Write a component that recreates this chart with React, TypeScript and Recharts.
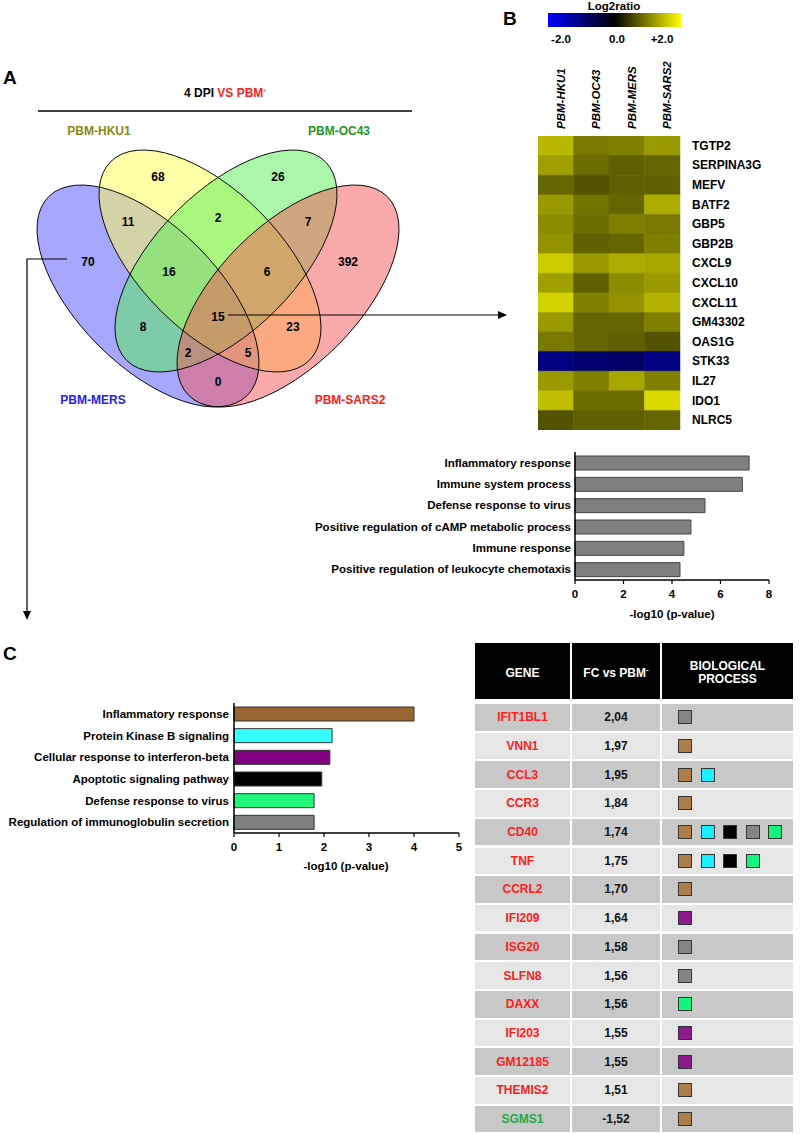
import React from 'react';
import { BarChart, Bar, XAxis, YAxis, Cell } from 'recharts';

const FONT = '"Liberation Sans", Arial, Helvetica, sans-serif';

// ---------- Panel A: Venn ----------
const vennSetNames = ['PBM-MERS', 'PBM-HKU1', 'PBM-OC43', 'PBM-SARS2'];
const vennRegionKeys = ['M', 'H', 'O', 'S', 'MH', 'HO', 'OS', 'MHO', 'HOS', 'MHOS', 'MO', 'HS', 'MOS', 'MHS', 'MS'];
const vennCounts = [70, 68, 26, 392, 11, 2, 7, 16, 6, 15, 8, 23, 2, 5, 0];

// ---------- Panel B: heatmap ----------
const heatGenes = ['TGTP2', 'SERPINA3G', 'MEFV', 'BATF2', 'GBP5', 'GBP2B', 'CXCL9', 'CXCL10', 'CXCL11', 'GM43302', 'OAS1G', 'STK33', 'IL27', 'IDO1', 'NLRC5'];
const heatColumns = ['PBM-HKU1', 'PBM-OC43', 'PBM-MERS', 'PBM-SARS2'];
const heatHKU1 = [1.45, 1.25, 0.8, 1.2, 1.1, 1.15, 1.6, 1.25, 1.65, 1.2, 0.95, -1.0, 1.2, 1.5, 0.65];
const heatOC43 = [0.95, 0.85, 0.65, 0.9, 0.85, 0.75, 1.2, 0.75, 1.0, 0.8, 0.8, -0.85, 1.0, 0.85, 0.75];
const heatMERS = [1.0, 0.75, 0.75, 0.8, 1.0, 0.8, 1.35, 1.1, 1.15, 0.8, 0.75, -0.8, 1.3, 0.85, 0.75];
const heatSARS2 = [1.2, 0.8, 0.75, 1.35, 0.95, 1.0, 1.3, 1.2, 1.4, 1.0, 0.65, -1.0, 1.0, 1.7, 0.8];
const heatValues = [heatHKU1, heatOC43, heatMERS, heatSARS2];
const colorbarTicks = ['-2.0', '0.0', '+2.0'];

// ---------- Panel B: GO bar chart ----------
const goTermsB = ['Inflammatory response', 'Immune system process', 'Defense response to virus', 'Positive regulation of cAMP metabolic process', 'Immune response', 'Positive regulation of leukocyte chemotaxis'];
const goValuesB = [7.18, 6.9, 5.36, 4.78, 4.49, 4.33];
const ticksB = [0, 2, 4, 6, 8];

// ---------- Panel C: GO bar chart ----------
const goTermsC = ['Inflammatory response', 'Protein Kinase B signaling', 'Cellular response to interferon-beta', 'Apoptotic signaling pathway', 'Defense response to virus', 'Regulation of immunoglobulin secretion'];
const goValuesC = [4.0, 2.18, 2.13, 1.95, 1.78, 1.78];
const ticksC = [0, 1, 2, 3, 4, 5];

// ---------- Panel C: table ----------
const tableGenes = ['IFIT1BL1', 'VNN1', 'CCL3', 'CCR3', 'CD40', 'TNF', 'CCRL2', 'IFI209', 'ISG20', 'SLFN8', 'DAXX', 'IFI203', 'GM12185', 'THEMIS2', 'SGMS1'];
const tableFC = ['2,04', '1,97', '1,95', '1,84', '1,74', '1,75', '1,70', '1,64', '1,58', '1,56', '1,56', '1,55', '1,55', '1,51', '-1,52'];
const tableProcesses = [[5], [0], [0, 1], [0], [0, 1, 3, 5, 4], [0, 1, 3, 4], [0], [2], [5], [5], [4], [2], [2], [0], [0]];

// ---------- styles / layout (not data) ----------
const goColorsC = ['#996633', '#33ffff', '#800080', '#000000', '#1ef77a', '#808080'];
const squareColors = ['#ad7d4b', '#19f0ff', '#8c1c8c', '#000000', '#12f57e', '#858585'];
const vennLabelPos: Record<string, [number, number]> = {
  M: [88, 262], H: [158, 177], O: [278, 177], S: [348, 262],
  MH: [128, 222], HO: [218, 218], OS: [308, 222],
  MHO: [169, 272], HOS: [267, 272], MHOS: [218, 317],
  MO: [143, 327], HS: [293, 327], MOS: [188, 353], MHS: [248, 353], MS: [218, 382],
};
const vennEllipses = [
  { cx: 148, cy: 296, rot: 45, fill: '#5050ff' },
  { cx: 210, cy: 261, rot: 45, fill: '#ffff50' },
  { cx: 226, cy: 261, rot: -45, fill: '#55f055' },
  { cx: 288, cy: 296, rot: -45, fill: '#f55555' },
];
const vennSetLabelStyle = [
  { x: 93, y: 400, color: '#2222ff' },
  { x: 99, y: 131, color: '#8a8a1a' },
  { x: 339, y: 131, color: '#229922' },
  { x: 350, y: 400, color: '#ff2020' },
];

function heatColor(v: number): string {
  const t = Math.max(-1, Math.min(1, v / 2));
  if (t >= 0) {
    const c = Math.round(255 * t);
    return `rgb(${c},${c},0)`;
  }
  return `rgb(0,0,${Math.round(-255 * t)})`;
}

const boldTick = (size: number) => ({ fill: '#000', fontSize: size, fontWeight: 700, fontFamily: FONT });

const makeCategoryTick = (size: number, anchor: 'start' | 'end') => (props: any) => {
  const { x, y, payload } = props;
  return (
    <text x={x} y={y} textAnchor={anchor} dominantBaseline="central" fill="#000" fontSize={size} fontWeight={700} fontFamily={FONT}>
      {payload.value}
    </text>
  );
};

function Overlay() {
  const arrowHead = (x: number, y: number, dir: 'right' | 'down') =>
    dir === 'right'
      ? `${x},${y} ${x - 9},${y - 4} ${x - 9},${y + 4}`
      : `${x},${y} ${x - 4},${y - 9} ${x + 4},${y - 9}`;
  return (
    <svg width={800} height={1134} style={{ position: 'absolute', left: 0, top: 0 }} fontFamily={FONT}>
      {/* panel letters */}
      <text x={3} y={84} fontSize={19} fontWeight={700}>A</text>
      <text x={503} y={25} fontSize={19} fontWeight={700}>B</text>
      <text x={3} y={660} fontSize={19} fontWeight={700}>C</text>

      {/* Venn title */}
      <text x={225} y={97} fontSize={12} fontWeight={700} textAnchor="middle">
        <tspan fill="#000">4 DPI </tspan>
        <tspan fill="#ff2020">VS PBM</tspan>
        <tspan fill="#ff2020" fontSize={8} dy={-5}>-</tspan>
      </text>
      <line x1={38} y1={111} x2={412} y2={111} stroke="#000" strokeWidth={1.3} />

      {/* Venn ellipses */}
      {vennEllipses.map((e, i) => (
        <ellipse key={i} cx={e.cx} cy={e.cy} rx={140.5} ry={70} transform={`rotate(${e.rot} ${e.cx} ${e.cy})`} fill={e.fill} fillOpacity={0.5} stroke="none" />
      ))}
      {vennEllipses.map((e, i) => (
        <ellipse key={'o' + i} cx={e.cx} cy={e.cy} rx={140.5} ry={70} transform={`rotate(${e.rot} ${e.cx} ${e.cy})`} fill="none" stroke="#000" strokeWidth={0.9} />
      ))}
      {vennSetNames.map((n, i) => (
        <text key={n} x={vennSetLabelStyle[i].x} y={vennSetLabelStyle[i].y} fill={vennSetLabelStyle[i].color} fontSize={12} fontWeight={700} textAnchor="middle" dominantBaseline="central">{n}</text>
      ))}
      {vennRegionKeys.map((k, i) => (
        <text key={k} x={vennLabelPos[k][0]} y={vennLabelPos[k][1]} fontSize={12} fontWeight={700} textAnchor="middle" dominantBaseline="central" fill="#000">{vennCounts[i]}</text>
      ))}

      {/* arrows */}
      <polyline points="67,259 27,259 27,611" fill="none" stroke="#000" strokeWidth={1.2} />
      <polygon points={arrowHead(27, 620, 'down')} fill="#000" />
      <line x1={228} y1={315} x2={498} y2={315} stroke="#000" strokeWidth={1.2} />
      <polygon points={arrowHead(507, 315, 'right')} fill="#000" />

      {/* colour bar */}
      <defs>
        <linearGradient id="cbar" x1="0" x2="1" y1="0" y2="0">
          <stop offset="0" stopColor="#0000ff" />
          <stop offset="0.5" stopColor="#000000" />
          <stop offset="1" stopColor="#ffff00" />
        </linearGradient>
      </defs>
      <text x={614} y={6} fontSize={11.5} fontWeight={700} textAnchor="middle" dominantBaseline="central">Log2ratio</text>
      <rect x={548} y={13} width={133} height={14} fill="url(#cbar)" />
      {colorbarTicks.map((t, i) => (
        <text key={t} x={[561, 617, 662][i]} y={39} fontSize={11.5} fontWeight={700} textAnchor="middle" dominantBaseline="central">{t}</text>
      ))}

      {/* heatmap column labels */}
      {heatColumns.map((c, i) => (
        <text key={c} x={538 + 35.5 * (i + 0.5) + 9} y={129} fontSize={11.5} fontWeight={700} fontStyle="italic" transform={`rotate(-90 ${538 + 35.5 * (i + 0.5) + 9} 129)`}>{c}</text>
      ))}

      {/* axis titles */}
      <text x={672} y={614} fontSize={11.5} fontWeight={700} textAnchor="middle" dominantBaseline="central">-log10 (p-value)</text>
      <text x={346} y={866} fontSize={11.5} fontWeight={700} textAnchor="middle" dominantBaseline="central">-log10 (p-value)</text>
    </svg>
  );
}

function Heatmap() {
  const rows = heatGenes.map((g) => ({ gene: g, c0: 1, c1: 1, c2: 1, c3: 1 }));
  return (
    <div style={{ position: 'absolute', left: 538, top: 136 }}>
      <BarChart width={242} height={294} data={rows} layout="vertical" margin={{ top: 0, right: 0, bottom: 0, left: 0 }} barCategoryGap={0} barGap={0}>
        <XAxis type="number" domain={[0, 4]} hide />
        <YAxis type="category" dataKey="gene" orientation="right" width={100} axisLine={false} tickLine={false} tickSize={0} tickMargin={12} interval={0} tick={makeCategoryTick(12, 'start')} />
        {heatColumns.map((c, ci) => (
          <Bar key={c} dataKey={`c${ci}`} stackId="h" isAnimationActive={false}>
            {rows.map((r, ri) => (
              <Cell key={r.gene} fill={heatColor(heatValues[ci][ri])} stroke={heatColor(heatValues[ci][ri])} strokeWidth={0.5} />
            ))}
          </Bar>
        ))}
      </BarChart>
    </div>
  );
}

function ChartB() {
  const rows = goTermsB.map((t, i) => ({ term: t, value: goValuesB[i] }));
  return (
    <div style={{ position: 'absolute', left: 250, top: 440 }}>
      <BarChart width={540} height={170} data={rows} layout="vertical" margin={{ top: 12, right: 21, bottom: 0, left: 0 }}>
        <XAxis type="number" domain={[0, 8]} ticks={ticksB} interval={0} height={30} axisLine={{ stroke: '#000', strokeWidth: 1.5 }} tickLine={{ stroke: '#000', strokeWidth: 1.2 }} tickSize={4} tickMargin={6} tick={boldTick(11.5)} />
        <YAxis type="category" dataKey="term" width={325} axisLine={{ stroke: '#000', strokeWidth: 1.5 }} tickLine={false} tickSize={0} tickMargin={4} interval={0} tick={makeCategoryTick(11.5, 'end')} />
        <Bar dataKey="value" fill="#808080" stroke="#444" strokeWidth={1} barSize={14} isAnimationActive={false} />
      </BarChart>
    </div>
  );
}

function ChartC() {
  const rows = goTermsC.map((t, i) => ({ term: t, value: goValuesC[i] }));
  return (
    <div style={{ position: 'absolute', left: 0, top: 690 }}>
      <BarChart width={480} height={175} data={rows} layout="vertical" margin={{ top: 13, right: 21, bottom: 0, left: 0 }}>
        <XAxis type="number" domain={[0, 5]} ticks={ticksC} interval={0} height={32} axisLine={{ stroke: '#000', strokeWidth: 1.5 }} tickLine={{ stroke: '#000', strokeWidth: 1.2 }} tickSize={4} tickMargin={6} tick={boldTick(11.5)} />
        <YAxis type="category" dataKey="term" width={234} axisLine={{ stroke: '#000', strokeWidth: 1.5 }} tickLine={false} tickSize={0} tickMargin={5} interval={0} tick={makeCategoryTick(11.5, 'end')} />
        <Bar dataKey="value" stroke="#333" strokeWidth={1} barSize={14} isAnimationActive={false}>
          {rows.map((r, i) => (
            <Cell key={r.term} fill={goColorsC[i]} />
          ))}
        </Bar>
      </BarChart>
    </div>
  );
}

function GeneTable() {
  const cols = [
    { x: 475, w: 95 },
    { x: 572, w: 88 },
    { x: 662, w: 131 },
  ];
  const headerTop = 643;
  const headerH = 56;
  const rowTop = 704;
  const pitch = 28.7;
  const cellH = 26.6;
  const cellBase: React.CSSProperties = {
    position: 'absolute',
    display: 'flex',
    alignItems: 'center',
    justifyContent: 'center',
    fontFamily: FONT,
    fontWeight: 700,
    fontSize: 12,
    boxSizing: 'border-box',
  };
  const headers = [
    <span key="g">GENE</span>,
    <span key="f">FC vs PBM<sup style={{ fontSize: 8, verticalAlign: 'top', position: 'relative', top: -1 }}>-</sup></span>,
    <span key="b" style={{ textAlign: 'center', lineHeight: '13px' }}>BIOLOGICAL<br />PROCESS</span>,
  ];
  return (
    <div>
      {cols.map((c, i) => (
        <div key={'h' + i} style={{ ...cellBase, left: c.x, top: headerTop, width: c.w, height: headerH, background: '#000', color: '#fff', paddingTop: 3 }}>
          {headers[i]}
        </div>
      ))}
      {tableGenes.map((g, ri) => {
        const top = rowTop + ri * pitch;
        const bg = ri % 2 === 0 ? '#c8c8c8' : '#e6e6e6';
        return (
          <React.Fragment key={g}>
            <div style={{ ...cellBase, left: cols[0].x, top, width: cols[0].w, height: cellH, background: bg, color: tableFC[ri].startsWith('-') ? '#22aa44' : '#ff2020' }}>{g}</div>
            <div style={{ ...cellBase, left: cols[1].x, top, width: cols[1].w, height: cellH, background: bg, color: '#111' }}>{tableFC[ri]}</div>
            <div style={{ ...cellBase, left: cols[2].x, top, width: cols[2].w, height: cellH, background: bg, justifyContent: 'flex-start', paddingLeft: 16 }}>
              {tableProcesses[ri].map((p, k) => (
                <div key={k} style={{ width: 14, height: 14, boxSizing: 'border-box', border: '1.5px solid #333', background: squareColors[p], marginRight: 8.5 }} />
              ))}
            </div>
          </React.Fragment>
        );
      })}
    </div>
  );
}

export default function App() {
  return (
    <div style={{ position: 'absolute', left: 0, top: 0, width: 800, height: 1134, background: '#fff', overflow: 'hidden', fontFamily: FONT }}>
      <Overlay />
      <Heatmap />
      <ChartB />
      <ChartC />
      <GeneTable />
    </div>
  );
}
